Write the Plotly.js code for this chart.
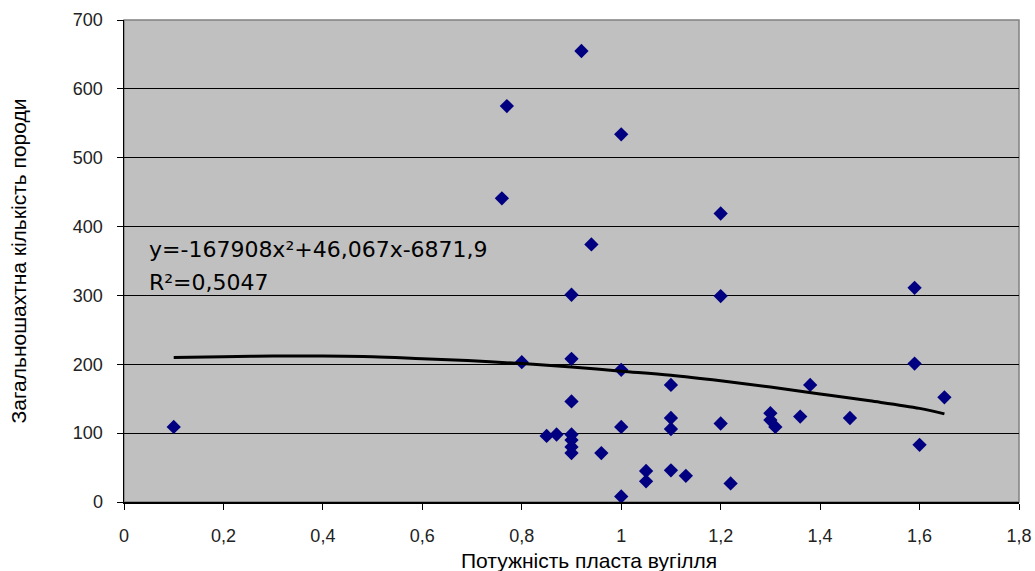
<!DOCTYPE html>
<html>
<head>
<meta charset="utf-8">
<script src="https://cdn.plot.ly/plotly-3.0.1.min.js"></script>
<style>html,body{margin:0;padding:0;background:#fff;}#chart{width:1035px;height:571px;}</style>
</head>
<body>
<div id="chart"></div>
<script>
// Data
const seamThickness = [0.10, 0.77, 0.76, 0.92, 1.00, 0.94, 1.20, 0.90, 1.20, 1.59,
  0.80, 0.90, 1.00, 1.10, 1.38, 1.59, 1.65, 0.90, 0.85, 0.87,
  0.90, 0.90, 0.90, 0.90, 0.96, 1.00, 1.10, 1.10, 1.20, 1.30,
  1.30, 1.31, 1.36, 1.46, 1.60, 1.05, 1.05, 1.10, 1.13, 1.22, 1.00];
const rockAmount = [109, 575, 441, 655, 534, 374, 419, 301, 299, 311,
  203, 208, 192, 170, 170, 201, 152, 146, 96, 98,
  98, 90, 80, 71, 71, 109, 122, 106, 114, 129,
  119, 109, 124, 122, 83, 45, 30, 46, 38, 27, 8];
// Trend line
const trendX = [0.10, 0.20, 0.30, 0.40, 0.50, 0.60, 0.70, 0.80, 0.90, 1.00, 1.10, 1.20, 1.30, 1.40, 1.50, 1.60, 1.65];
const trendY = [210, 211, 212, 212, 211, 208, 205, 201, 196, 190, 184, 176, 167, 157, 147, 136, 128];
const equationText = "y=-167908x²+46,067x-6871,9";
const r2Text = "R²=0,5047";
const xTitle = "Потужність пласта вугілля";
const yTitle = "Загальношахтна кількість породи";

const data = [
  {
    x: seamThickness, y: rockAmount, type: 'scatter', mode: 'markers',
    marker: {symbol: 'diamond', size: 11, color: '#000080', line: {width: 0}},
    hoverinfo: 'x+y', showlegend: false
  },
  {
    x: trendX, y: trendY, type: 'scatter', mode: 'lines',
    line: {color: '#000000', width: 3, shape: 'spline'},
    hoverinfo: 'skip', showlegend: false
  }
];

const tickFont = {family: 'Liberation Sans, Arial, sans-serif', size: 18, color: '#222'};
const titleFont = {family: 'Liberation Sans, Arial, sans-serif', size: 21, color: '#000'};
const layout = {
  width: 1035, height: 571,
  margin: {l: 124, r: 16, t: 20, b: 69},
  paper_bgcolor: '#ffffff',
  plot_bgcolor: '#c0c0c0',
  separators: ', ',
  showlegend: false,
  xaxis: {
    range: [0, 1.8], dtick: 0.2, tick0: 0,
    showgrid: false, zeroline: false,
    showline: true, linecolor: '#000', linewidth: 1.5,
    ticks: 'outside', ticklen: 6, tickcolor: '#000', tickwidth: 1,
    ticklabelstandoff: 11,
    tickfont: tickFont
  },
  yaxis: {
    range: [0, 700], dtick: 100, tick0: 0,
    showgrid: true, gridcolor: '#000', gridwidth: 1,
    zeroline: false,
    showline: true, linecolor: '#000', linewidth: 1.5,
    ticks: 'outside', ticklen: 6, tickcolor: '#000', tickwidth: 1,
    ticklabelstandoff: 10,
    tickfont: tickFont,
    title: {text: yTitle, font: titleFont, standoff: 40}
  },
  shapes: [
    {type: 'rect', xref: 'paper', yref: 'paper', x0: 0, x1: 1, y0: 0, y1: 1,
     line: {color: '#808080', width: 1.5}, fillcolor: 'rgba(0,0,0,0)', layer: 'below'}
  ],
  annotations: [
    {x: 0.046, y: 366, xref: 'x', yref: 'y', text: equationText, showarrow: false,
     xanchor: 'left', yanchor: 'middle',
     font: {family: 'DejaVu Sans, sans-serif', size: 22, color: '#000'}},
    {x: 0.046, y: 319, xref: 'x', yref: 'y', text: r2Text, showarrow: false,
     xanchor: 'left', yanchor: 'middle',
     font: {family: 'DejaVu Sans, sans-serif', size: 22, color: '#000'}},
    {x: 0.52, y: -0.122, xref: 'paper', yref: 'paper', text: xTitle, showarrow: false,
     xanchor: 'center', yanchor: 'middle', font: titleFont}
  ]
};

Plotly.newPlot('chart', data, layout, {displayModeBar: false, staticPlot: true});
</script>
</body>
</html>
